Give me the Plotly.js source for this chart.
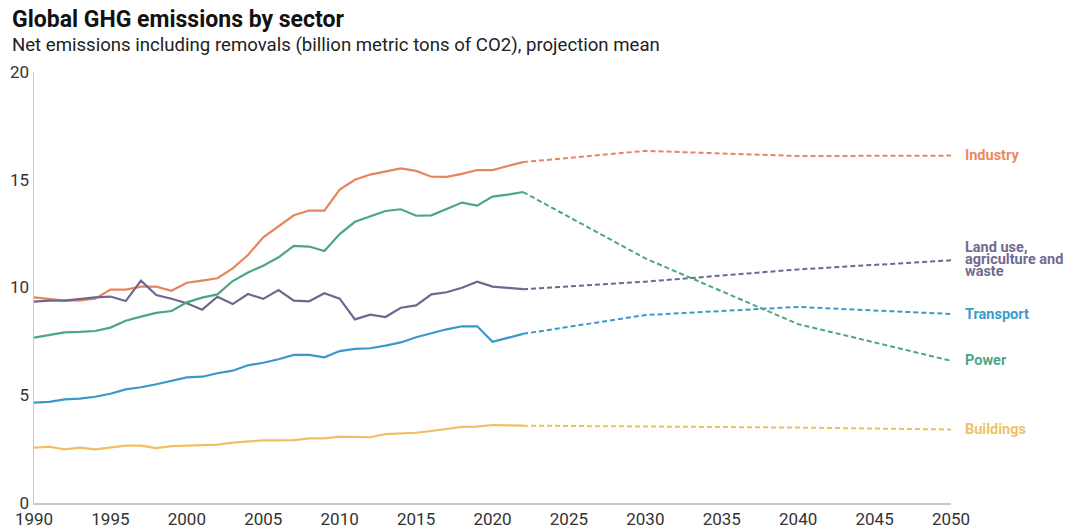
<!DOCTYPE html>
<html>
<head>
<meta charset="utf-8">
<script src="https://cdn.plot.ly/plotly-3.0.1.min.js"></script>
<style>html,body{margin:0;padding:0;background:#fff;}#chart{width:1075px;height:529px;}</style>
</head>
<body>
<div id="chart"></div>
<script>
const histYears = [1990,1991,1992,1993,1994,1995,1996,1997,1998,1999,2000,2001,2002,2003,2004,2005,2006,2007,2008,2009,2010,2011,2012,2013,2014,2015,2016,2017,2018,2019,2020,2021,2022];
const projYears = [2022,2030,2040,2050];

const industryHist = [9.54,9.48,9.39,9.40,9.48,9.90,9.90,10.04,10.04,9.85,10.22,10.32,10.43,10.89,11.51,12.33,12.82,13.35,13.57,13.57,14.54,15.00,15.24,15.39,15.53,15.41,15.14,15.13,15.27,15.45,15.45,15.64,15.82];
const industryProj = [15.82,16.34,16.10,16.12];

const landHist = [9.34,9.39,9.39,9.47,9.54,9.58,9.37,10.32,9.65,9.48,9.27,8.97,9.57,9.23,9.70,9.47,9.88,9.39,9.36,9.73,9.48,8.52,8.74,8.63,9.06,9.17,9.68,9.78,9.99,10.27,10.04,9.98,9.92];
const landProj = [9.92,10.27,10.84,11.26];

const transportHist = [4.66,4.69,4.81,4.84,4.93,5.07,5.27,5.37,5.51,5.68,5.83,5.86,6.02,6.14,6.39,6.51,6.67,6.87,6.87,6.76,7.05,7.15,7.18,7.30,7.45,7.69,7.87,8.06,8.20,8.20,7.48,7.67,7.85];
const transportProj = [7.85,8.72,9.10,8.77];

const powerHist = [7.67,7.80,7.92,7.94,7.98,8.14,8.46,8.65,8.82,8.91,9.31,9.53,9.68,10.30,10.70,11.01,11.40,11.93,11.90,11.69,12.48,13.05,13.29,13.55,13.63,13.33,13.35,13.66,13.94,13.80,14.22,14.31,14.43];
const powerProj = [14.43,11.35,8.30,6.60];

const buildingsHist = [2.57,2.61,2.49,2.57,2.49,2.57,2.66,2.66,2.55,2.64,2.66,2.69,2.71,2.80,2.86,2.91,2.91,2.92,3.00,3.00,3.08,3.08,3.05,3.20,3.22,3.26,3.34,3.43,3.53,3.54,3.62,3.60,3.59];
const buildingsProj = [3.59,3.55,3.50,3.41];

const yTicks = [0,5,10,15,20];
const xTicks = [1990,1995,2000,2005,2010,2015,2020,2025,2030,2035,2040,2045,2050];

const series = [
  {name:'Industry', hist:industryHist, proj:industryProj, color:'#E8845C', labelColor:'#E98A62', label:['Industry']},
  {name:'Land use, agriculture and waste', hist:landHist, proj:landProj, color:'#6C6890', labelColor:'#6F6B91', label:['Land use,','agriculture and','waste']},
  {name:'Transport', hist:transportHist, proj:transportProj, color:'#3A98CC', labelColor:'#3C9BD0', label:['Transport']},
  {name:'Power', hist:powerHist, proj:powerProj, color:'#4CA583', labelColor:'#4FA786', label:['Power']},
  {name:'Buildings', hist:buildingsHist, proj:buildingsProj, color:'#F1BF63', labelColor:'#F0C16C', label:['Buildings']}
];

const traces = [];
const annotations = [];
series.forEach(s => {
  traces.push({x:histYears, y:s.hist, type:'scatter', mode:'lines', line:{color:s.color, width:2.2}, hoverinfo:'skip', showlegend:false});
  traces.push({x:projYears, y:s.proj, type:'scatter', mode:'lines', line:{color:s.color, width:2, dash:'5px,3px'}, hoverinfo:'skip', showlegend:false});
  const last = s.proj[s.proj.length-1];
  const n = s.label.length;
  s.label.forEach((t,i) => {
    annotations.push({x:2050, y:last, xref:'x', yref:'y', text:'<b>'+t+'</b>', showarrow:false, xanchor:'left', yanchor:'middle', xshift:12, yshift:((n-1)/2 - i)*12 + (n>1 ? 1 : 0), font:{family:'Roboto, sans-serif', size:14.5, color:s.labelColor}});
  });
});

const px2paper = p => (503 - p) / 431;
annotations.push({xref:'paper', yref:'paper', x:-24/917, y:px2paper(20), xanchor:'left', yanchor:'middle', text:'<b>Global GHG emissions by sector</b>', showarrow:false, font:{family:'Roboto, sans-serif', size:23, color:'#111'}});
annotations.push({xref:'paper', yref:'paper', x:-24/917, y:px2paper(45), xanchor:'left', yanchor:'middle', text:'Net emissions including removals (billion metric tons of CO2), projection mean', showarrow:false, font:{family:'Roboto, sans-serif', size:18.6, color:'#222'}});

const layout = {
  width:1075, height:529,
  margin:{l:34, r:124, t:72, b:26},
  paper_bgcolor:'#fff', plot_bgcolor:'#fff',
  showlegend:false,
  xaxis:{range:[1990,2050], tickvals:xTicks, ticktext:xTicks.map(String), showgrid:false, zeroline:false, showline:true, linecolor:'#c8c8c8', linewidth:1.5, ticks:'', tickfont:{family:'Roboto, sans-serif', size:17, color:'#333'}, automargin:false},
  yaxis:{range:[0,20], tickvals:yTicks, ticktext:yTicks.map(String), showgrid:false, zeroline:false, showline:true, linecolor:'#c8c8c8', linewidth:1.5, ticks:'', tickfont:{family:'Roboto, sans-serif', size:17, color:'#333'}, automargin:false},
  annotations:annotations
};

Plotly.newPlot('chart', traces, layout, {staticPlot:true, displayModeBar:false});
</script>
</body>
</html>
